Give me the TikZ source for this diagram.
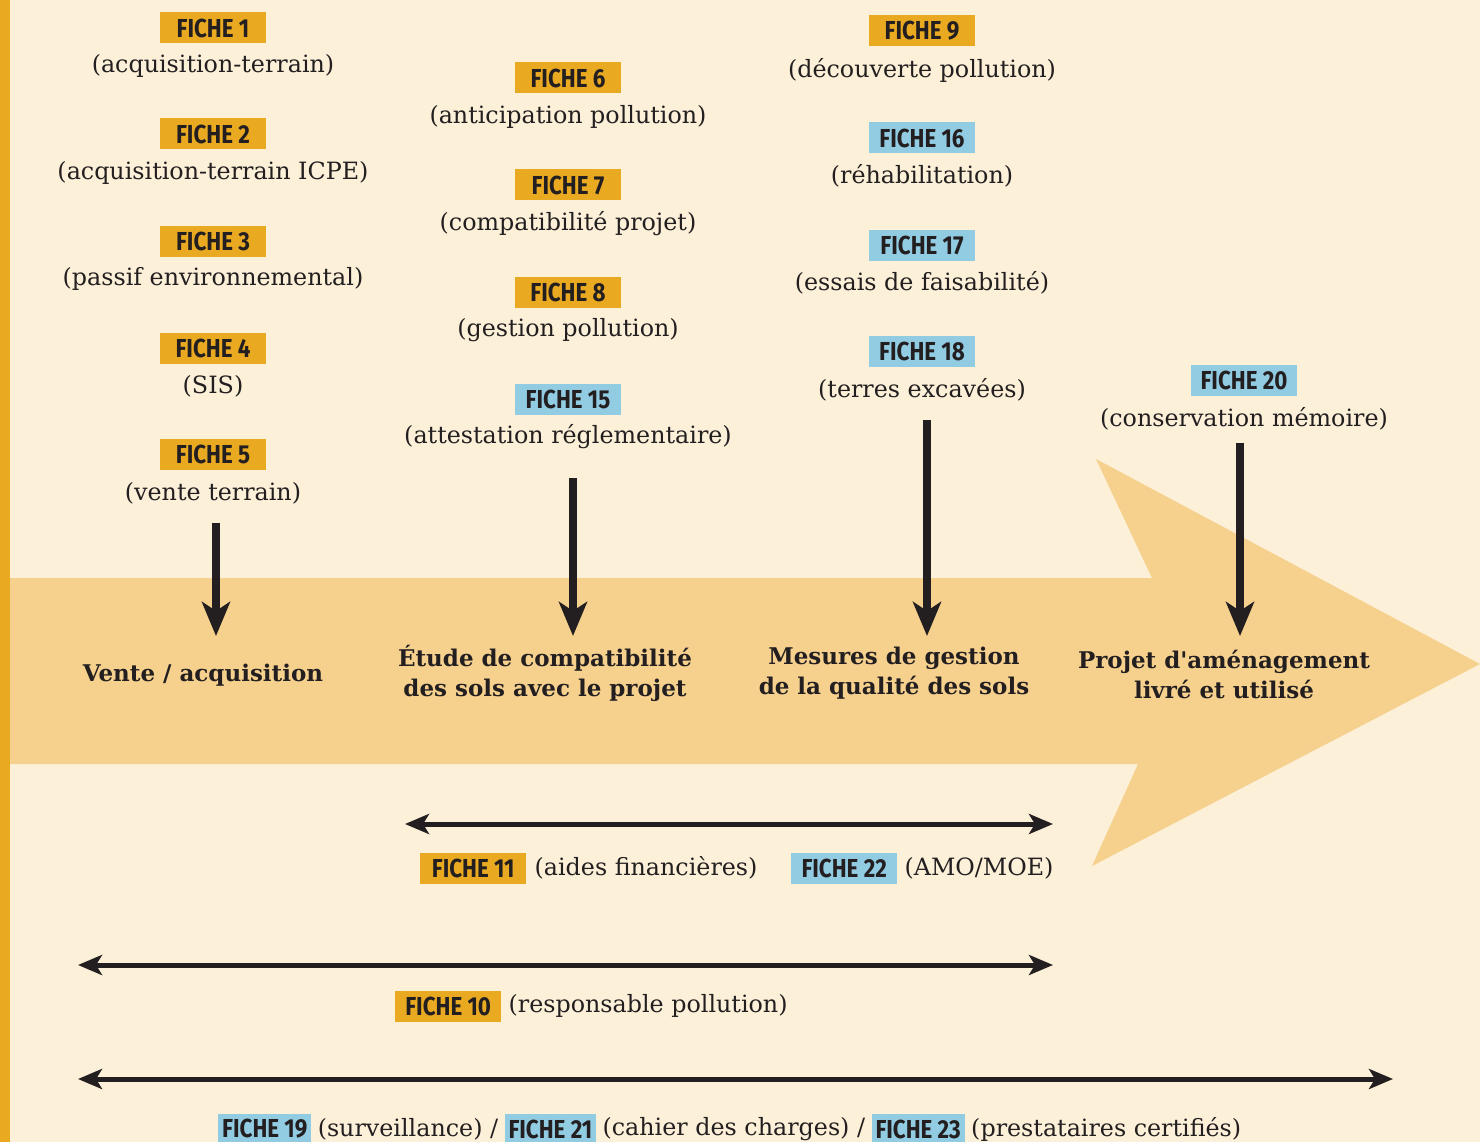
\documentclass[tikz,border=0pt]{standalone}
\usepackage{fontspec}
\setmainfont{DejaVu Serif}
\newfontfamily\fichefont{Fira Sans}[FakeStretch=0.86]
\usetikzlibrary{arrows.meta}
\definecolor{bg}{HTML}{FCF0D9}
\definecolor{band}{HTML}{F6D18E}
\definecolor{ora}{HTML}{E9A920}
\definecolor{blu}{HTML}{92CCE2}
\definecolor{ink}{HTML}{231F20}
\begin{document}
\begin{tikzpicture}[x=1pt,y=-1pt,
  fiche/.style={fill=ora, text=ink, font=\fichefont\bfseries\fontsize{26}{26}\selectfont,
    minimum width=106pt, minimum height=31pt, inner sep=0pt},
  fblue/.style={fiche, fill=blu},
  fsmall/.style={minimum width=0pt, inner xsep=4pt},
  desc/.style={text=ink, font=\fontsize{23.8}{27}\selectfont, inner sep=0pt},
  stage/.style={text=ink, font=\bfseries\fontsize{23}{30}\selectfont, align=center, inner sep=0pt},
  varrow/.style={draw=ink, line width=8pt, -{Stealth[length=34pt,width=28pt,inset=9pt]}},
  harrow/.style={draw=ink, line width=5pt,
    {Stealth[length=24pt,width=20pt,inset=6pt]}-{Stealth[length=24pt,width=20pt,inset=6pt]}}
]
\useasboundingbox (0,0) rectangle (1480,1142);
\clip (0,0) rectangle (1480,1142);
\fill[bg] (0,0) rectangle (1480,1142);
\fill[ora] (0,0) rectangle (10,1142);
% big arrow
\fill[band] (10,578) -- (1152,578) -- (1096,459) -- (1480,664) -- (1092,866) -- (1138,764) -- (10,764) -- cycle;

% column 1
\node[fiche] (f1) at (213,28) {FICHE 1};
\node[desc] (t1) at (213,66) {(acquisition-terrain)};
\node[fiche] (f2) at (213,134) {FICHE 2};
\node[desc] (t2) at (213,173) {(acquisition-terrain ICPE)};
\node[fiche] (f3) at (213,241) {FICHE 3};
\node[desc] (t3) at (213,279) {(passif environnemental)};
\node[fiche] (f4) at (213,348) {FICHE 4};
\node[desc] (t4) at (213,386) {(SIS)};
\node[fiche] (f5) at (213,454) {FICHE 5};
\node[desc] (t5) at (213,493) {(vente terrain)};

% column 2
\node[fiche] (f6) at (568,78) {FICHE 6};
\node[desc] (t6) at (568,117) {(anticipation pollution)};
\node[fiche] (f7) at (568,185) {FICHE 7};
\node[desc] (t7) at (568,224) {(compatibilité projet)};
\node[fiche] (f8) at (568,292) {FICHE 8};
\node[desc] (t8) at (568,330) {(gestion pollution)};
\node[fblue] (f15) at (568,399) {FICHE 15};
\node[desc] (t15) at (568,437) {(attestation réglementaire)};

% column 3
\node[fiche] (f9) at (922,31) {FICHE 9};
\node[desc] (t9) at (922,70) {(découverte pollution)};
\node[fblue] (f16) at (922,138) {FICHE 16};
\node[desc] (t16) at (922,176) {(réhabilitation)};
\node[fblue] (f17) at (922,245) {FICHE 17};
\node[desc] (t17) at (922,283) {(essais de faisabilité)};
\node[fblue] (f18) at (922,351) {FICHE 18};
\node[desc] (t18) at (922,390) {(terres excavées)};

% column 4
\node[fblue] (f20) at (1244,380) {FICHE 20};
\node[desc] (t20) at (1244,419) {(conservation mémoire)};

% stages
\node[stage] (s1) at (203,675) {Vente / acquisition};
\node[stage] (s2) at (545,673) {Étude de compatibilité\\des sols avec le projet};
\node[stage] (s3) at (894,673) {Mesures de gestion\\de la qualité des sols};
\node[stage] (s4) at (1224,674) {Projet d\textquotesingle aménagement\\livré et utilisé};

% vertical arrows
\coordinate (v1a) at (216,523); \coordinate (v1b) at (216,636);
\coordinate (v2a) at (573,478); \coordinate (v2b) at (573,636);
\coordinate (v3a) at (927,420); \coordinate (v3b) at (927,636);
\coordinate (v4a) at (1240,443); \coordinate (v4b) at (1240,636);
\draw[varrow] (v1a) -- (v1b);
\draw[varrow] (v2a) -- (v2b);
\draw[varrow] (v3a) -- (v3b);
\draw[varrow] (v4a) -- (v4b);

% horizontal arrows
\coordinate (h1a) at (405,824); \coordinate (h1b) at (1053,824);
\coordinate (h2a) at (78,965); \coordinate (h2b) at (1053,965);
\coordinate (h3a) at (78,1079); \coordinate (h3b) at (1393,1079);
\draw[harrow] (h1a) -- (h1b);
\draw[harrow] (h2a) -- (h2b);
\draw[harrow] (h3a) -- (h3b);

% row FICHE 11 / 22
\node[fiche, anchor=west] (f11) at (420,868) {FICHE 11};
\node[desc, anchor=west] (t11) at ([xshift=8pt]f11.east) {(aides financières)};
\node[fblue, anchor=west] (f22) at (791,868) {FICHE 22};
\node[desc, anchor=west] (t22) at ([xshift=7pt]f22.east) {(AMO/MOE)};

% row FICHE 10
\node[fiche, anchor=west] (f10) at (395,1006) {FICHE 10};
\node[desc, anchor=west] (t10) at ([xshift=7pt]f10.east) {(responsable pollution)};

% last row
\node[fblue, fsmall, anchor=west] (f19) at (218,1129) {FICHE 19};
\node[desc, anchor=west] (t19) at ([xshift=6pt]f19.east) {(surveillance) /};
\node[fblue, fsmall, anchor=west] (f21) at ([xshift=6pt]t19.east) {FICHE 21};
\node[desc, anchor=west] (t21) at ([xshift=6pt]f21.east) {(cahier des charges) /};
\node[fblue, fsmall, anchor=west] (f23) at ([xshift=6pt]t21.east) {FICHE 23};
\node[desc, anchor=west] (t23) at ([xshift=6pt]f23.east) {(prestataires certifiés)};
\end{tikzpicture}
\end{document}
